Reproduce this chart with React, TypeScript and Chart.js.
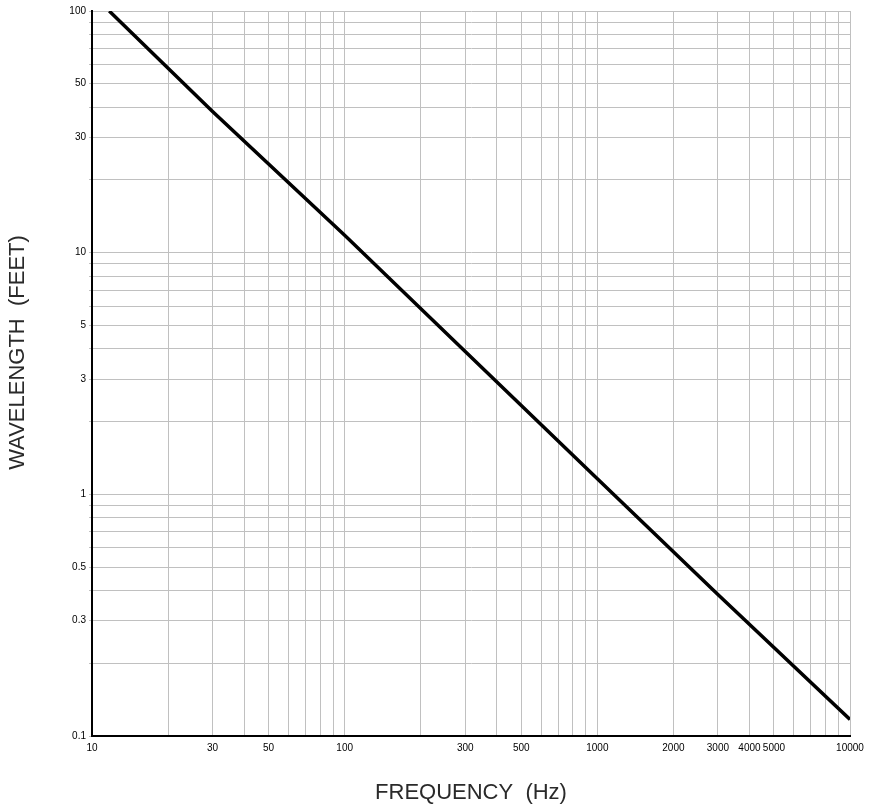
import React, { useEffect, useRef } from 'react';
import { Chart, registerables } from 'chart.js';

Chart.register(...registerables);

// Wavelength (feet) vs frequency (Hz)
const frequencies = [11.7, 30, 100, 300, 1000, 3000, 10000];
const wavelengths = [100, 38.4, 11.8, 3.9, 1.16, 0.385, 0.117];

// Labelled ticks
const xTickLabels = [10, 30, 50, 100, 300, 500, 1000, 2000, 3000, 4000, 5000, 10000];
const yTickLabels = [0.1, 0.3, 0.5, 1, 3, 5, 10, 30, 50, 100];

const xTitle = 'FREQUENCY  (Hz)';
const yTitle = 'WAVELENGTH  (FEET)';

const xMin = 10;
const xMax = 10000;
const yMin = 0.1;
const yMax = 100;

function decadeTicks(min: number, max: number): number[] {
  const out: number[] = [];
  const e0 = Math.floor(Math.log10(min));
  const e1 = Math.ceil(Math.log10(max));
  for (let e = e0; e <= e1; e++) {
    for (let m = 1; m <= 9; m++) {
      const v = Number((m * Math.pow(10, e)).toPrecision(6));
      if (v >= min * 0.9999 && v <= max * 1.0001) out.push(v);
    }
  }
  return out;
}

function isLabelled(v: number, list: number[]): boolean {
  return list.some((l) => Math.abs(l - v) / l < 1e-6);
}

function fmt(v: number): string {
  return String(Number(v.toPrecision(6)));
}

const titleFamily = "'Liberation Sans', Arial, sans-serif";

// Draws the y-axis title slightly above the axis centre, as in the reference
const yTitlePlugin = {
  id: 'yTitleOffset',
  afterDraw(chart: any) {
    const s = chart.scales.y;
    const ctx = chart.ctx;
    ctx.save();
    ctx.font = `22px ${titleFamily}`;
    ctx.fillStyle = '#2a2a2a';
    ctx.textAlign = 'center';
    ctx.textBaseline = 'middle';
    const cx = s.left + 18;
    const cy = (s.top + s.bottom) / 2 - 21;
    ctx.translate(cx, cy);
    ctx.rotate(-Math.PI / 2);
    ctx.fillText(yTitle, 0, 0);
    ctx.restore();
  },
};

export default function App() {
  const ref = useRef<HTMLCanvasElement | null>(null);

  useEffect(() => {
    if (!ref.current) return;
    const tickFont = { family: "'Liberation Sans', Arial, sans-serif", size: 10 };
    const titleFont = { family: titleFamily, size: 22 };
    const chart = new Chart(ref.current, {
      type: 'line',
      data: {
        datasets: [
          {
            data: frequencies.map((f, i) => ({ x: f, y: wavelengths[i] })),
            borderColor: '#000000',
            borderWidth: 3.5,
            pointRadius: 0,
            tension: 0,
            fill: false,
          },
        ],
      },
      plugins: [yTitlePlugin],
      options: {
        animation: false,
        responsive: true,
        maintainAspectRatio: false,
        layout: { padding: { top: 11, right: 21, left: 0, bottom: 0 } },
        plugins: { legend: { display: false }, tooltip: { enabled: false } },
        scales: {
          x: {
            type: 'logarithmic',
            min: xMin,
            max: xMax,
            afterBuildTicks: (s: any) => {
              s.ticks = decadeTicks(xMin, xMax).map((v) => ({ value: v }));
            },
            afterFit: (s: any) => {
              s.height = 72;
            },
            ticks: {
              autoSkip: false,
              maxRotation: 0,
              minRotation: 0,
              padding: 6,
              color: '#000',
              font: tickFont,
              callback: (v: any) => (isLabelled(Number(v), xTickLabels) ? fmt(Number(v)) : ''),
            },
            grid: { color: '#c0c0c0', lineWidth: 1, drawTicks: false },
            border: { color: '#000', width: 2 },
            title: {
              display: true,
              text: xTitle,
              color: '#2a2a2a',
              font: titleFont,
              padding: { top: 0, bottom: 2 },
            },
          },
          y: {
            type: 'logarithmic',
            min: yMin,
            max: yMax,
            afterBuildTicks: (s: any) => {
              s.ticks = decadeTicks(yMin, yMax).map((v) => ({ value: v }));
            },
            afterFit: (s: any) => {
              s.width = 92;
            },
            ticks: {
              autoSkip: false,
              padding: 3,
              color: '#000',
              font: tickFont,
              callback: (v: any) => (isLabelled(Number(v), yTickLabels) ? fmt(Number(v)) : ''),
            },
            grid: { color: '#c0c0c0', lineWidth: 1, drawTicks: true, tickLength: 3 },
            border: { color: '#000', width: 2 },
            title: { display: false },
          },
        },
      } as any,
    });
    return () => chart.destroy();
  }, []);

  return (
    <div style={{ position: 'fixed', left: 0, top: 0, width: 871, height: 808, background: '#fff' }}>
      <canvas ref={ref} />
    </div>
  );
}
